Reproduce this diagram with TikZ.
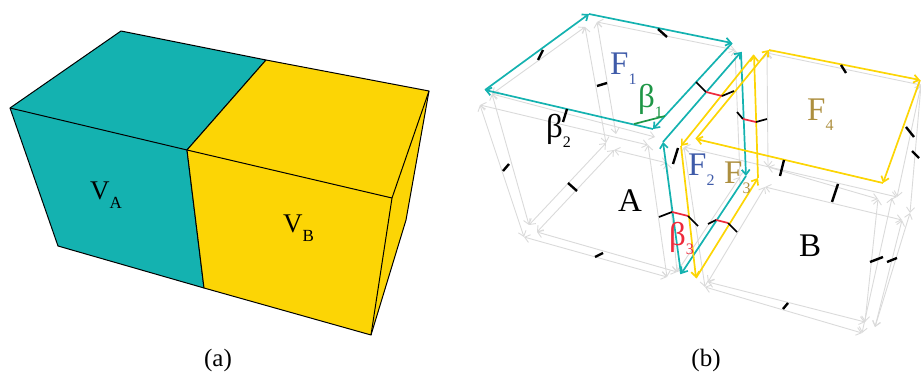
\documentclass[tikz,border=0pt]{standalone}
\usepackage{fontspec}
\setmainfont{Liberation Serif}
\usetikzlibrary{arrows.meta}
\definecolor{vteal}{HTML}{14B2B0}
\definecolor{vyellow}{HTML}{FCD505}
\definecolor{wiregray}{HTML}{DADADA}
\definecolor{fblue}{HTML}{3F5BA9}
\definecolor{ftan}{HTML}{AD8F3F}
\definecolor{bgreen}{HTML}{1E9646}
\definecolor{bred}{HTML}{EE2A3B}
\newcommand{\sublbl}[2][16]{\raisebox{-0.3em}{\fontsize{#1}{#1}\selectfont #2}}
\begin{document}
\begin{tikzpicture}[
  x=1pt, y=-1pt,
  facefill/.style={draw=black, line width=1pt, line join=round},
  wire/.style={draw=wiregray, line width=0.9pt, {Straight Barb[length=5pt,width=8pt]}-{Straight Barb[length=5pt,width=8pt]}},
  tealedge/.style={draw=vteal, line width=1.7pt, -{Straight Barb[length=5pt,width=8pt]}},
  yellowedge/.style={draw=vyellow, line width=1.7pt, -{Straight Barb[length=5pt,width=8pt]}},
  tickmark/.style={draw=black, line width=2.4pt},
  redmark/.style={draw=bred, line width=1.7pt},
  biglabel/.style={anchor=base west, inner sep=0pt, font=\fontsize{33}{33}\selectfont},
  volabel/.style={anchor=base west, inner sep=0pt, font=\fontsize{27}{27}\selectfont},
  caption/.style={inner sep=0pt, font=\fontsize{25}{25}\selectfont},
]
\useasboundingbox (0,0) rectangle (921,374);

% Left side: the two volumes
\coordinate (p1) at (10,108);
\coordinate (p2) at (121,31);
\coordinate (p3) at (266,60);
\coordinate (p4) at (429,91);
\coordinate (p5) at (187,150);
\coordinate (p6) at (392,198);
\coordinate (p7) at (58,246);
\coordinate (p8) at (204,288);
\coordinate (p9) at (371,335);
\coordinate (p10) at (406,220);

\filldraw[facefill, fill=vteal] (p1) -- (p2) -- (p3) -- (p5) -- (p8) -- (p7) -- cycle;
\filldraw[facefill, fill=vyellow] (p3) -- (p4) -- (p10) -- (p9) -- (p8) -- (p5) -- cycle;
\draw[facefill] (p1) -- (p5) -- (p6) -- (p4);
\draw[facefill] (p6) -- (p9);

\node[volabel] (va) at (90,200) {V\sublbl[17]{A}};
\node[volabel] (vb) at (283,233) {V\sublbl[17]{B}};
\node[caption] (capa) at (218,360) {(a)};

% Right side: wire cubes
\coordinate (a2) at (492,94);
\coordinate (a3) at (585,27);
\coordinate (a4) at (597,22);
\coordinate (a5) at (735,50);
\coordinate (a6) at (606,143);
\coordinate (a7) at (616,134);
\coordinate (a8) at (480,105);
\coordinate (a9) at (648,145);
\coordinate (a10) at (655,137);
\coordinate (a11) at (524,237);
\coordinate (a12) at (529,225);
\coordinate (a13) at (614,150);
\coordinate (a14) at (537,232);
\coordinate (a15) at (667,277);
\coordinate (a16) at (677,272);
\coordinate (a17) at (667,163);
\coordinate (a18) at (740,177);

\coordinate (b1) at (767,53);
\coordinate (b2) at (921,85);
\coordinate (b3) at (768,167);
\coordinate (b4) at (684,147);
\coordinate (b5) at (878,199);
\coordinate (b6) at (897,197);
\coordinate (b7) at (765,187);
\coordinate (b8) at (902,220);
\coordinate (b9) at (708,282);
\coordinate (b10) at (705,287);
\coordinate (b11) at (865,322);
\coordinate (b12) at (862,333);
\coordinate (b13) at (875,327);
\coordinate (b14) at (910,213);
\coordinate (b15) at (892,198);

\foreach \s/\t in {a2/a3, a4/a5, a3/a6, a4/a7, a8/a9, a2/a10, a8/a11, a2/a12, a6/a12,
  a13/a14, a11/a15, a14/a16, a13/a17, a9/a15, a17/a16, a16/a18, a5/a18,
  b1/b2, b1/b3, b4/b6, b3/b5, b7/b8, b7/b9, b4/b10, b9/b11, b10/b12,
  b5/b11, b15/b12, b8/b13, b2/b6, b2/b14, b14/b13}
  \draw[wire] (\s) -- (\t);

% Faces of the two cubes
\coordinate (f1a) at (485,90);
\coordinate (f1b) at (589,14);
\coordinate (f1c) at (732,43);
\coordinate (f1d) at (653,129);
\foreach \s/\t in {f1a/f1b, f1b/f1c, f1c/f1d, f1d/f1a}
  \draw[tealedge] (\s) -- (\t);

\coordinate (f2a) at (663,142);
\coordinate (f2b) at (741,52);
\coordinate (f2c) at (746,176);
\coordinate (f2d) at (681,274);
\foreach \s/\t in {f2a/f2b, f2b/f2c, f2c/f2d, f2d/f2a}
  \draw[tealedge] (\s) -- (\t);

\coordinate (f3a) at (681,146);
\coordinate (f3b) at (754,55);
\coordinate (f3c) at (758,178);
\coordinate (f3d) at (696,278);
\foreach \s/\t in {f3b/f3a, f3c/f3b, f3d/f3c, f3a/f3d}
  \draw[yellowedge] (\s) -- (\t);

\coordinate (f4a) at (696,139);
\coordinate (f4b) at (769,50);
\coordinate (f4c) at (920,80);
\coordinate (f4d) at (883,183);
\foreach \s/\t in {f4a/f4b, f4b/f4c, f4c/f4d, f4d/f4a}
  \draw[yellowedge] (\s) -- (\t);

% Tick marks
\foreach \xa/\ya/\xb/\yb in {538/60/543/50, 658/29/667/37, 597/86/607/83, 563/122/567/109,
  503/171/509/164, 568/183/577/191, 595/257/603/253, 673/164/678/148,
  841/65/846/73, 906/127/914/137, 912/151/919/158, 784/160/780/176,
  838/184/832/202, 870/262/883/257, 887/262/897/258, 788/303/783/309}
  \draw[tickmark] (\xa,\ya) -- (\xb,\yb);

% Angle marks
\foreach \xa/\ya/\xb/\yb/\xc/\yc/\xd/\yd in {659/217/672/212/688/216/698/226,
  708/224/716/220/728/223/737/232, 696/82/706/92/722/96/734/91, 737/112/743/119/756/122/767/119} {
  \draw[draw=black, line width=1.7pt] (\xa,\ya) -- (\xb,\yb);
  \draw[redmark] (\xb,\yb) -- (\xc,\yc);
  \draw[draw=black, line width=1.7pt] (\xc,\yc) -- (\xd,\yd);
}
\draw[draw=bgreen, line width=1.7pt] (634,124) -- (665,116);

\node[biglabel, text=fblue] (f1) at (610,75) {F\sublbl{1}};
\node[biglabel, text=fblue] (f2) at (688,176) {F\sublbl{2}};
\node[biglabel, text=ftan] (f3) at (724,184) {F\sublbl{3}};
\node[biglabel, text=ftan] (f4) at (807,121) {F\sublbl{4}};
\node[biglabel, text=bgreen] (b1l) at (638,108) {β\sublbl{1}};
\node[biglabel, text=black] (b2l) at (546,138) {β\sublbl{2}};
\node[biglabel, text=bred] (b3l) at (669,245) {β\sublbl{3}};
\node[biglabel] (cubea) at (618,212) {A};
\node[biglabel] (cubeb) at (799,256) {B};
\node[caption] (capb) at (706,360) {(b)};
\end{tikzpicture}
\end{document}
